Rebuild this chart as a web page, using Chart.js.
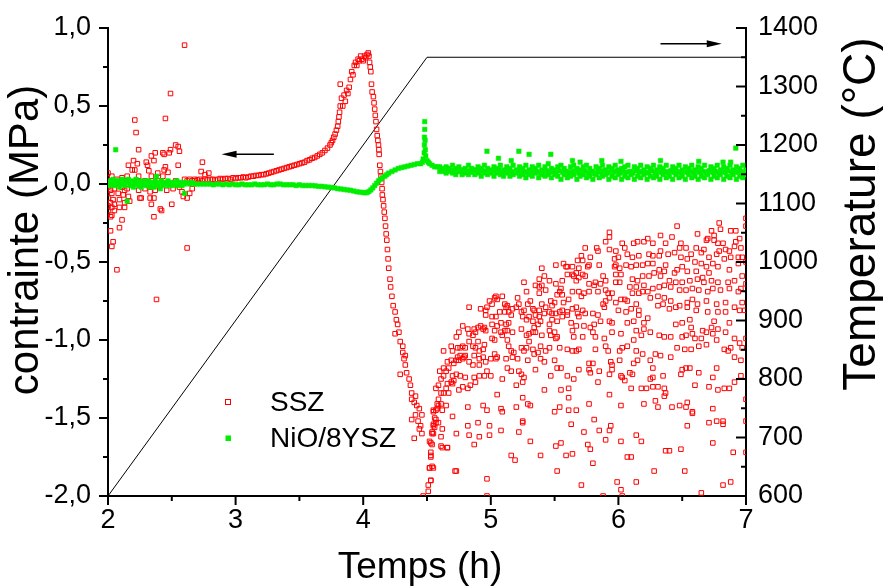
<!DOCTYPE html>
<html>
<head>
<meta charset="utf-8">
<script src="https://cdn.jsdelivr.net/npm/chart.js@4.4.1/dist/chart.umd.min.js"></script>
<style>
  html, body { margin: 0; padding: 0; background: #fff; }
  #wrap { width: 883px; height: 588px; }
</style>
</head>
<body>
<div id="wrap"><canvas id="myChart" width="883" height="588"></canvas></div>
<script>
// ---- data ----
const xTicks = [2, 3, 4, 5, 6, 7];
const stressTicks = [-2, -1.5, -1, -0.5, 0, 0.5, 1];
const tempTicks = [600, 700, 800, 900, 1000, 1100, 1200, 1300, 1400];

// temperature ramp (h, °C)
const tempTime = [2, 4.5, 7];
const tempValue = [600, 1350, 1350];

// SSZ stress (h, MPa)
const sszStart = [
  [2.60,0.89],[2.49,0.58],[2.45,0.42],[2.21,0.41],[2.22,0.33],[2.24,0.22],[2.53,0.25],[2.55,0.24],[2.56,0.21],
  [2.49,0.22],[2.48,0.20],[2.43,0.20],[2.44,0.19],[2.37,0.20],[2.34,0.18],[2.36,0.15],[2.20,0.15],[2.23,0.13],
  [2.30,0.14],[2.31,0.12],[2.45,0.11],[2.55,0.12],[2.74,0.14],[2.16,0.12],[2.19,0.09],[2.21,0.09],[2.32,0.085],
  [2.39,0.07],[2.44,0.09],[2.47,0.075],[2.73,0.08],[2.79,0.07],[2.11,0.04],[2.15,0.05],[2.24,0.05],[2.34,0.05],
  [2.43,0.05],[2.00,0.07],[2.00,-0.02],[2.02,-0.04],[2.05,-0.03],[2.11,-0.02],[2.13,-0.04],[2.15,-0.03],[2.03,-0.06],
  [2.08,-0.06],[2.12,-0.07],[2.16,-0.08],[2.00,-0.09],[2.04,-0.10],[2.09,-0.10],[2.02,-0.12],[2.05,-0.13],[2.13,-0.12],
  [2.17,-0.11],[2.00,-0.14],[2.03,-0.15],[2.09,-0.15],[2.13,-0.15],[2.00,-0.17],[2.05,-0.17],[2.02,-0.21],[2.03,-0.20],
  [2.11,-0.23],[2.02,-0.30],[2.09,-0.28],[2.04,-0.37],[2.03,-0.40],[2.07,-0.55],[2.38,-0.74],[2.62,-0.41],[2.24,-0.04],
  [2.29,-0.03],[2.33,-0.05],[2.37,-0.04],[2.25,-0.09],[2.26,-0.09],[2.33,-0.09],[2.36,-0.09],[2.34,-0.13],[2.41,-0.16],
  [2.42,-0.17],[2.36,-0.21],[2.50,-0.13],[2.58,-0.05],[2.59,-0.08],[2.62,-0.09],[2.64,-0.06],[2.66,-0.03],[2.46,-0.04],
  [2.51,-0.03],[2.56,-0.02],[2.32,-0.01],[2.41,0.00],[2.53,0.02],[2.60,0.03],[2.76,0.06],[2.39,0.02],[2.29,0.02],
  [2.19,0.01],[2.07,0.03],[2.03,0.05],[2.38,0.00],[2.68,0.02],[2.71,0.01]
];
const sszRise = [
  [2.62,0.02],[2.64,0.03],[2.66,0.02],[2.68,0.03],[2.70,0.025],[2.72,0.03],[2.74,0.02],[2.76,0.03],[2.78,0.025],
  [2.80,0.03],[2.82,0.03],[2.84,0.025],[2.86,0.03],[2.88,0.035],[2.90,0.03],[2.92,0.035],[2.94,0.035],[2.96,0.03],
  [2.98,0.04],[3.00,0.035],[3.02,0.04],[3.04,0.04],[3.06,0.045],[3.08,0.04],[3.10,0.045],[3.12,0.05],[3.14,0.05],
  [3.16,0.055],[3.18,0.055],[3.20,0.06],[3.22,0.06],[3.24,0.065],[3.26,0.07],[3.28,0.075],[3.30,0.08],[3.32,0.085],
  [3.34,0.09],[3.36,0.095],[3.38,0.10],[3.40,0.105],[3.42,0.11],[3.44,0.115],[3.46,0.12],[3.48,0.125],[3.50,0.13],
  [3.52,0.135],[3.54,0.14],[3.56,0.15],[3.58,0.155],[3.60,0.165],[3.62,0.17],[3.64,0.18],[3.66,0.19],[3.68,0.20],
  [3.70,0.215],[3.72,0.23],[3.74,0.25],[3.75,0.265],[3.76,0.28],[3.77,0.30],[3.78,0.32],[3.79,0.345],[3.80,0.37],
  [3.805,0.40],[3.81,0.43],[3.815,0.46],[3.82,0.50]
];
const sszPeakDrop = [
  [3.82,0.64],[3.83,0.55],[3.85,0.57],[3.86,0.53],[3.84,0.50],[3.87,0.60],[3.88,0.58],[3.89,0.62],[3.90,0.67],
  [3.91,0.72],[3.92,0.70],[3.93,0.76],[3.94,0.78],[3.95,0.76],[3.96,0.80],[3.97,0.79],[3.98,0.82],[3.99,0.80],
  [4.00,0.79],[4.01,0.82],[4.02,0.81],[4.03,0.83],[4.04,0.84],[4.045,0.82],[4.05,0.78],[4.055,0.75],[4.06,0.72],
  [4.065,0.64],[4.07,0.59],[4.08,0.56],[4.085,0.52],[4.09,0.48],[4.095,0.44],[4.10,0.40],[4.105,0.35],[4.11,0.31],
  [4.115,0.28],[4.12,0.25],[4.123,0.22],[4.125,0.19],[4.13,0.12],[4.135,0.08],[4.14,0.05],[4.145,0.01],[4.148,-0.03],
  [4.15,-0.07],[4.155,-0.10],[4.16,-0.14],[4.165,-0.18],[4.17,-0.22],[4.175,-0.27],[4.18,-0.32],[4.185,-0.36],
  [4.19,-0.42],[4.195,-0.48],[4.20,-0.54],[4.21,-0.61],[4.215,-0.66],[4.225,-0.72],[4.235,-0.78],[4.25,-0.82],
  [4.26,-0.87],[4.27,-0.90],[4.28,-0.95],[4.25,-0.96],[4.29,-1.01],[4.31,-1.04],[4.31,-1.08],[4.32,-1.12],[4.33,-1.10],
  [4.33,-1.16],[4.29,-1.22],[4.34,-1.21],[4.36,-1.25],[4.37,-1.29],[4.38,-1.34],[4.38,-1.38],[4.40,-1.40],[4.41,-1.36],
  [4.42,-1.42],[4.44,-1.44],[4.38,-1.51],[4.41,-1.48],[4.43,-1.52],[4.45,-1.55],[4.44,-1.57],[4.46,-1.60],[4.46,-1.48],
  [4.40,-1.63],[4.47,-2.00],[4.51,-1.93],[4.53,-1.90],[4.52,-1.82],[4.54,-1.81],[4.53,-1.74],[4.53,-1.66],[4.54,-1.60],
  [4.55,-1.55],[4.57,-1.51],[4.55,-1.46],[4.58,-1.44],[4.61,-1.68],[4.66,-1.69],[4.72,-1.84],[4.62,-1.57]
];
const sszCloud = [
  [4.51,-1.97],[4.53,-1.90],[4.52,-1.82],[4.55,-1.82],[4.53,-1.75],[4.53,-1.72],[4.54,-1.67],[4.52,-1.65],[4.55,-1.60],
  [4.54,-1.59],[4.56,-1.56],[4.57,-1.53],[4.55,-1.54],[4.59,-1.53],[4.56,-1.50],[4.57,-1.45],[4.55,-1.45],[4.59,-1.42],
  [4.58,-1.41],[4.62,-1.45],[4.65,-1.42],[4.61,-1.41],[4.59,-1.38],[4.61,-1.34],[4.57,-1.31],[4.59,-1.29],[4.63,-1.34],
  [4.67,-1.34],[4.65,-1.31],[4.66,-1.28],[4.69,-1.27],[4.70,-1.28],[4.71,-1.26],[4.61,-1.25],[4.63,-1.23],[4.60,-1.20],
  [4.65,-1.20],[4.67,-1.18],[4.63,-1.18],[4.66,-1.14],[4.69,-1.13],[4.71,-1.15],[4.73,-1.13],[4.74,-1.11],[4.75,-1.13],
  [4.76,-1.10],[4.78,-1.12],[4.79,-1.11],[4.80,-1.10],[4.63,-1.07],[4.69,-1.04],[4.70,-1.07],[4.74,-1.05],[4.76,-1.05],
  [4.78,-1.04],[4.80,-1.05],[4.73,-0.98],[4.75,-0.95],[4.78,-0.91],[4.82,-0.93],[4.83,-0.96],[4.86,-0.97],[4.88,-0.95],
  [4.87,-0.93],[4.90,-0.92],[4.92,-0.91],[4.94,-0.93],[4.95,-0.92],[4.96,-0.94],[4.83,-1.01],[4.86,-1.04],[4.88,-1.05],
  [4.91,-1.07],[4.94,-1.06],[4.95,-1.03],[4.90,-1.01],[4.87,-1.10],[4.91,-1.12],[4.94,-1.11],[4.96,-1.14],[5.00,-1.12],
  [5.04,-1.12],[5.05,-1.11],[5.03,-1.09],[4.97,-1.20],[5.00,-1.23],[4.95,-1.23],[4.91,-1.23],[4.87,-1.24],[4.88,-1.27],
  [4.84,-1.29],[4.82,-1.31],[4.78,-1.30],[4.75,-1.32],[4.80,-1.24],[4.76,-1.23],[4.73,-1.22],[4.70,-1.23],[4.86,-1.16],
  [4.91,-1.16],[4.83,-1.14],[4.99,-0.75],[4.97,-0.79],[4.96,-0.84],[5.01,-0.77],[5.03,-0.73],[5.04,-0.72],[5.05,-0.74],
  [5.09,-0.72],[5.11,-0.77],[5.13,-0.78],[5.01,-0.85],[5.04,-0.85],[5.07,-0.82],[5.08,-0.89],[5.11,-0.82],[5.12,-0.79],
  [5.14,-0.82],[5.16,-0.84],[5.17,-0.80],[5.20,-0.79],[5.21,-0.73],[5.22,-0.77],[5.26,-0.63],[5.28,-0.69],[5.29,-0.77],
  [5.31,-0.75],[5.33,-0.80],[5.34,-0.81],[5.24,-0.82],[5.26,-0.81],[5.25,-0.85],[5.28,-0.87],[5.30,-0.85],[5.33,-0.88],
  [5.34,-0.92],[5.12,-0.90],[5.14,-0.89],[5.01,-0.90],[5.03,-0.94],[5.05,-0.91],[5.08,-0.95],[5.11,-0.94],[5.13,-0.94],
  [5.17,-0.95],[5.24,-0.93],[5.28,-0.97],[5.30,-0.96],[5.33,-0.95],[5.09,-0.97],[5.13,-1.00],[5.14,-1.04],[5.16,-1.07],
  [5.18,-1.08],[5.17,-1.11],[5.21,-1.12],[5.24,-1.05],[5.26,-1.07],[5.28,-1.05],[5.30,-1.01],[5.33,-1.06],[5.34,-1.09],
  [5.29,-1.13],[5.12,-1.12],[5.13,-1.18],[5.16,-1.20],[5.22,-1.20],[5.24,-1.22],[5.26,-1.24],[5.25,-1.27],[5.20,-1.29],
  [5.09,-1.25],[5.05,-1.35],[4.83,-0.79],[4.92,-0.80],[4.96,-0.81],[5.03,-1.00],[5.01,-0.99],[5.25,-1.37],[5.29,-1.41],
  [5.20,-1.43],[5.09,-1.46],[5.08,-1.44],[4.97,-1.45],[4.94,-1.42],[4.82,-1.43],[4.70,-1.49],[4.61,-1.62],[4.62,-1.69],
  [4.66,-1.69],[4.73,-1.60],[4.83,-1.61],[4.91,-1.62],[4.99,-1.61],[5.08,-1.58],[5.22,-1.59],[5.25,-1.52],[5.25,-1.53],
  [5.31,-1.42],[4.87,-1.67],[4.99,-1.55],[4.90,-1.53],[4.82,-1.55],[5.16,-1.74],[5.19,-1.77],[4.73,-1.84],[4.97,-1.89],
  [4.97,-2.00],[5.31,-1.65],
  [5.93,-0.31],[5.93,-0.34],[5.90,-0.37],[5.93,-0.42],[5.74,-0.41],[5.83,-0.41],[5.84,-0.43],[5.78,-0.47],[5.71,-0.46],
  [5.68,-0.49],[5.72,-0.49],[5.77,-0.52],[5.85,-0.52],[5.76,-0.53],[5.69,-0.54],[5.64,-0.53],[5.60,-0.53],[5.57,-0.51],
  [5.59,-0.53],[5.51,-0.52],[5.40,-0.54],[5.42,-0.59],[5.46,-0.62],[5.38,-0.61],[5.35,-0.65],[5.38,-0.66],[5.40,-0.65],
  [5.43,-0.68],[5.38,-0.70],[5.51,-0.64],[5.56,-0.62],[5.55,-0.67],[5.54,-0.69],[5.60,-0.58],[5.64,-0.58],[5.67,-0.57],
  [5.67,-0.62],[5.65,-0.59],[5.69,-0.60],[5.72,-0.58],[5.74,-0.59],[5.77,-0.64],[5.82,-0.63],[5.81,-0.65],[5.88,-0.59],
  [5.90,-0.62],[5.86,-0.64],[5.98,-0.43],[6.00,-0.47],[5.97,-0.48],[6.03,-0.38],[6.05,-0.41],[6.07,-0.45],[6.11,-0.47],
  [6.12,-0.38],[6.16,-0.46],[6.15,-0.37],[6.20,-0.37],[5.98,-0.52],[5.97,-0.53],[6.01,-0.54],[6.06,-0.52],[6.10,-0.53],
  [6.14,-0.52],[6.19,-0.52],[5.98,-0.58],[6.02,-0.58],[5.98,-0.63],[6.01,-0.63],[6.11,-0.61],[6.15,-0.62],[6.09,-0.66],
  [6.14,-0.66],[6.19,-0.59],[6.20,-0.65],[6.19,-0.69],[6.16,-0.70],[6.11,-0.70],[5.92,-0.70],[5.90,-0.68],[5.84,-0.69],
  [5.77,-0.69],[5.73,-0.70],[5.71,-0.72],[5.69,-0.69],[5.64,-0.69],[5.61,-0.74],[5.57,-0.76],[5.56,-0.71],[5.52,-0.71],
  [5.47,-0.75],[5.50,-0.76],[5.48,-0.78],[5.40,-0.77],[5.43,-0.79],[5.38,-0.81],[5.35,-0.84],[5.38,-0.85],[5.42,-0.83],
  [5.46,-0.82],[5.48,-0.83],[5.51,-0.83],[5.54,-0.82],[5.56,-0.81],[5.60,-0.82],[5.64,-0.80],[5.67,-0.79],[5.68,-0.83],
  [5.72,-0.81],[5.74,-0.83],[5.80,-0.83],[5.84,-0.84],[5.88,-0.77],[5.89,-0.79],[5.90,-0.75],[5.93,-0.73],[5.95,-0.70],
  [5.98,-0.76],[6.02,-0.74],[6.05,-0.74],[6.07,-0.75],[6.14,-0.77],[6.16,-0.81],[6.10,-0.80],[6.06,-0.82],[6.00,-0.81],
  [5.95,-0.89],[5.93,-0.88],[5.86,-0.88],[5.81,-0.90],[5.78,-0.92],[5.73,-0.91],[5.69,-0.85],[5.67,-0.91],[5.63,-0.89],
  [5.60,-0.84],[5.56,-0.85],[5.52,-0.88],[5.48,-0.87],[5.46,-0.90],[5.39,-0.88],[5.37,-0.90],[5.35,-0.95],[5.40,-0.97],
  [5.46,-0.94],[5.50,-0.95],[5.52,-0.98],[5.47,-0.97],[5.51,-0.99],[5.64,-0.94],[5.65,-0.98],[5.72,-0.98],[5.80,-0.95],
  [5.82,-0.98],[5.89,-0.99],[5.95,-0.95],[6.02,-0.96],[6.07,-0.89],[6.12,-0.88],[6.16,-0.84],[6.20,-0.89],[6.14,-0.94],
  [6.20,-0.93],[6.18,-0.97],[6.12,-1.00],[6.07,-1.04],[6.03,-1.05],[6.01,-1.07],[5.92,-1.07],[5.90,-1.04],[5.82,-1.06],
  [5.69,-1.06],[5.67,-1.07],[5.64,-1.07],[5.60,-1.06],[5.54,-1.05],[5.46,-1.05],[5.43,-1.07],[5.39,-1.04],[5.37,-1.08],
  [5.39,-1.12],[5.42,-1.14],[5.50,-1.13],[5.52,-1.18],[5.55,-1.18],[5.35,-1.19],[5.47,-1.23],[5.60,-1.23],[5.65,-1.25],
  [5.69,-1.19],[5.77,-1.15],[5.80,-1.15],[5.77,-1.19],[5.78,-1.21],[5.85,-1.20],[5.94,-1.14],[5.95,-1.16],[5.95,-1.19],
  [5.93,-1.22],[6.01,-1.13],[6.02,-1.23],[6.05,-1.26],[6.09,-1.21],[6.12,-1.15],[6.15,-1.13],[6.19,-1.09],[6.14,-1.07],
  [6.11,-1.22],[6.03,-1.24],[5.84,-1.27],[5.42,-1.32],[5.55,-1.32],[5.61,-1.31],[5.61,-1.37],[5.77,-1.41],[5.93,-1.35],
  [6.10,-1.31],[6.18,-1.31],[6.20,-1.41],[6.02,-1.42],[5.54,-1.43],[5.50,-1.46],[5.61,-1.45],[5.67,-1.45],[5.63,-1.54],
  [5.81,-1.51],[5.73,-1.59],[5.85,-1.58],[5.93,-1.58],[5.94,-1.55],[5.90,-1.64],[6.02,-1.65],[6.14,-1.61],[6.18,-1.65],
  [5.55,-1.66],[5.51,-1.68],[5.76,-1.67],[5.78,-1.70],[5.64,-1.73],[5.59,-1.74],[5.39,-1.74],[5.80,-1.79],[6.07,-1.75],
  [6.10,-1.75],[5.52,-1.84],[5.71,-1.93],[5.99,-1.91],[6.14,-1.91],[6.02,-1.96],[6.03,-2.00],[5.88,-2.00],
  [6.46,-0.27],[6.62,-0.32],[6.79,-0.25],[6.80,-0.29],[6.73,-0.30],[6.75,-0.33],[6.70,-0.35],[6.69,-0.36],[6.75,-0.36],
  [6.78,-0.38],[6.82,-0.38],[6.88,-0.30],[6.92,-0.30],[6.92,-0.37],[6.95,-0.35],[7.00,-0.22],[7.00,-0.27],[6.96,-0.41],
  [6.91,-0.40],[6.87,-0.43],[6.84,-0.42],[6.79,-0.43],[6.77,-0.45],[6.71,-0.47],[6.67,-0.42],[6.65,-0.44],[6.61,-0.41],
  [6.57,-0.45],[6.53,-0.41],[6.49,-0.38],[6.48,-0.41],[6.44,-0.44],[6.39,-0.45],[6.33,-0.43],[6.32,-0.46],[6.27,-0.46],
  [6.24,-0.45],[6.23,-0.35],[6.27,-0.38],[6.33,-0.33],[6.37,-0.38],[6.42,-0.34],[6.49,-0.47],[6.54,-0.48],[6.60,-0.50],
  [6.65,-0.51],[6.69,-0.53],[6.74,-0.51],[6.83,-0.48],[6.88,-0.47],[6.94,-0.47],[6.97,-0.47],[7.00,-0.50],[6.94,-0.51],
  [6.87,-0.55],[6.78,-0.53],[6.71,-0.57],[6.66,-0.60],[6.61,-0.56],[6.54,-0.56],[6.50,-0.53],[6.46,-0.55],[6.44,-0.57],
  [6.37,-0.52],[6.36,-0.56],[6.32,-0.55],[6.27,-0.51],[6.23,-0.51],[6.24,-0.59],[6.28,-0.57],[6.33,-0.59],[6.40,-0.62],
  [6.45,-0.63],[6.50,-0.63],[6.56,-0.62],[6.62,-0.61],[6.67,-0.63],[6.73,-0.62],[6.78,-0.63],[6.86,-0.63],[6.91,-0.62],
  [6.97,-0.59],[7.00,-0.64],[6.96,-0.67],[6.94,-0.69],[6.87,-0.67],[6.80,-0.68],[6.74,-0.67],[6.70,-0.69],[6.63,-0.68],
  [6.58,-0.67],[6.53,-0.68],[6.48,-0.68],[6.41,-0.66],[6.36,-0.65],[6.32,-0.66],[6.27,-0.67],[6.23,-0.69],[6.25,-0.73],
  [6.31,-0.72],[6.36,-0.73],[6.41,-0.75],[6.48,-0.78],[6.54,-0.76],[6.58,-0.74],[6.62,-0.77],[6.69,-0.75],[6.77,-0.77],
  [6.84,-0.76],[6.91,-0.79],[6.97,-0.76],[6.99,-0.81],[6.95,-0.81],[6.84,-0.82],[6.78,-0.82],[6.70,-0.82],[6.61,-0.81],
  [6.54,-0.79],[6.45,-0.79],[6.40,-0.80],[6.35,-0.77],[6.31,-0.78],[6.23,-0.86],[6.25,-0.95],[6.32,-0.97],[6.36,-0.98],
  [6.41,-0.98],[6.45,-0.90],[6.50,-0.89],[6.56,-0.87],[6.57,-0.92],[6.50,-0.98],[6.53,-0.97],[6.60,-0.99],[6.58,-0.96],
  [6.65,-0.99],[6.66,-0.94],[6.69,-0.95],[6.73,-0.92],[6.75,-0.88],[6.78,-0.93],[6.74,-0.96],[6.77,-1.00],[6.69,-1.03],
  [6.63,-1.04],[6.57,-1.06],[6.52,-1.06],[6.46,-1.05],[6.41,-1.11],[6.33,-1.10],[6.29,-1.09],[6.25,-1.13],[6.27,-1.18],
  [6.27,-1.24],[6.35,-1.23],[6.25,-1.25],[6.22,-1.31],[6.27,-1.30],[6.31,-1.30],[6.36,-1.31],[6.37,-1.34],[6.36,-1.36],
  [6.50,-1.19],[6.53,-1.18],[6.56,-1.18],[6.49,-1.22],[6.60,-1.29],[6.63,-1.21],[6.71,-1.30],[6.74,-1.24],[6.77,-1.18],
  [6.83,-1.06],[6.86,-1.07],[6.88,-1.05],[6.91,-1.11],[6.84,-0.95],[6.87,-0.89],[6.91,-0.99],[6.95,-1.02],[6.97,-1.05],
  [7.00,-0.99],[6.96,-1.13],[6.96,-1.23],[6.91,-1.27],[6.83,-1.31],[6.87,-1.31],[6.78,-1.32],[6.29,-1.39],[6.31,-1.43],
  [6.42,-1.43],[6.48,-1.42],[6.53,-1.43],[6.54,-1.40],[6.58,-1.46],[6.58,-1.47],[6.74,-1.44],[6.71,-1.53],[6.77,-1.52],
  [6.82,-1.52],[6.82,-1.54],[7.00,-1.38],[7.00,-1.52],[6.54,-1.55],[6.37,-1.71],[6.40,-1.71],[6.49,-1.70],[6.74,-1.66],
  [6.90,-1.72],[6.28,-1.84],[6.52,-1.84],[6.82,-1.93],[6.88,-1.91],[6.65,-1.98],[7.00,-1.72]
];

// NiO/8YSZ stress (h, MPa)
const nioStart = [
  [2.00,0.01],[2.01,-0.01],[2.02,0.02],[2.03,0.00],[2.04,0.03],[2.05,-0.01],[2.06,0.02],[2.06,0.22],[2.07,0.00],
  [2.08,0.02],[2.09,-0.02],[2.10,0.01],[2.11,0.03],[2.12,0.00],[2.13,-0.01],[2.14,0.02],[2.15,-0.11],[2.15,0.01],
  [2.16,0.03],[2.17,-0.01],[2.18,0.01],[2.19,0.02],[2.20,-0.02],[2.21,0.01],[2.22,0.03],[2.23,0.00],[2.24,-0.01],
  [2.25,0.02],[2.26,-0.02],[2.27,0.01],[2.28,0.00],[2.29,0.02],[2.30,-0.01],[2.31,0.01],[2.32,0.02],[2.33,-0.02],
  [2.34,0.00],[2.35,0.01],[2.36,-0.02],[2.37,0.02],[2.38,0.05],[2.38,0.00],[2.39,-0.01],[2.40,0.01],[2.41,-0.03],
  [2.42,0.02],[2.43,0.00],[2.44,-0.01],[2.45,0.01],[2.46,0.00],[2.47,0.02],[2.48,-0.01],[2.49,0.01],[2.50,0.00],
  [2.51,-0.01],[2.52,0.01],[2.53,0.00],[2.54,0.02],[2.55,-0.01],[2.56,0.01],[2.57,0.00],[2.58,-0.01],[2.59,0.01],
  [2.60,-0.06],[2.60,0.00],[2.62,0.01],[2.64,0.00],[2.66,0.01],[2.68,0.00],[2.70,0.00]
];
const nioRamp = [
  [2.725,0.00],[2.75,0.00],[2.775,0.00],[2.80,0.00],[2.825,-0.005],[2.85,0.00],[2.875,0.00],[2.90,-0.005],[2.925,0.00],
  [2.95,-0.005],[2.975,0.00],[3.00,-0.005],[3.025,-0.005],[3.05,0.00],[3.075,-0.005],[3.10,-0.005],[3.125,-0.005],
  [3.15,0.00],[3.175,-0.005],[3.20,-0.005],[3.225,-0.005],[3.25,0.00],[3.275,-0.005],[3.30,-0.005],[3.325,0.00],
  [3.35,0.00],[3.375,-0.005],[3.40,-0.005],[3.425,-0.005],[3.45,-0.005],[3.475,-0.01],[3.50,-0.005],[3.525,-0.01],
  [3.55,-0.01],[3.575,-0.01],[3.60,-0.01],[3.625,-0.012],[3.65,-0.015],[3.675,-0.015],[3.70,-0.018],[3.725,-0.02],
  [3.75,-0.022],[3.775,-0.025],[3.80,-0.03],[3.825,-0.032],[3.85,-0.035],[3.875,-0.038],[3.90,-0.04],[3.925,-0.045],
  [3.95,-0.05],[3.975,-0.052],[4.00,-0.055],[4.015,-0.056],[4.03,-0.055],[4.045,-0.048],[4.06,-0.038],[4.075,-0.025],
  [4.09,-0.01],[4.105,0.005],[4.12,0.02],[4.135,0.03],[4.15,0.04],[4.17,0.05],[4.185,0.06],[4.20,0.07],[4.225,0.08],
  [4.25,0.09],[4.275,0.10],[4.30,0.105],[4.325,0.11],[4.35,0.115],[4.375,0.12],[4.40,0.125],[4.425,0.13],[4.45,0.13],
  [4.465,0.14],[4.47,0.16],[4.478,0.20],[4.48,0.25],[4.48,0.30],[4.482,0.35],[4.482,0.40],[4.485,0.28],[4.487,0.22],
  [4.49,0.18],[4.50,0.15],[4.51,0.14],[4.52,0.13],[4.54,0.12],[4.56,0.11],[4.58,0.11]
];
const nioBand = [
  [4.600,0.11],[4.600,0.08],[4.625,0.10],[4.625,0.09],[4.650,0.11],[4.650,0.07],[4.675,0.10],[4.675,0.08],
  [4.700,0.12],[4.700,0.07],[4.725,0.10],[4.725,0.06],[4.750,0.11],[4.750,0.08],[4.775,0.09],[4.775,0.06],
  [4.800,0.10],[4.800,0.07],[4.825,0.12],[4.825,0.06],[4.850,0.10],[4.850,0.08],[4.875,0.09],[4.875,0.06],
  [4.900,0.11],[4.900,0.07],[4.925,0.10],[4.925,0.05],[4.950,0.12],[4.950,0.07],[4.975,0.10],[4.975,0.06],
  [5.000,0.09],[5.000,0.07],[5.025,0.11],[5.025,0.05],[5.050,0.10],[5.050,0.07],[5.075,0.12],[5.075,0.06],
  [5.100,0.09],[5.100,0.05],[5.125,0.11],[5.125,0.07],[5.150,0.10],[5.150,0.05],[5.175,0.12],[5.175,0.06],
  [5.200,0.09],[5.200,0.07],[5.225,0.11],[5.225,0.05],[5.250,0.10],[5.250,0.06],[5.275,0.12],[5.275,0.04],
  [5.300,0.09],[5.300,0.06],[5.325,0.11],[5.325,0.05],[5.350,0.10],[5.350,0.07],[5.375,0.12],[5.375,0.04],
  [5.400,0.09],[5.400,0.06],[5.425,0.11],[5.425,0.05],[5.450,0.13],[5.450,0.06],[5.475,0.10],[5.475,0.04],
  [5.500,0.09],[5.500,0.06],[5.525,0.11],[5.525,0.05],[5.550,0.12],[5.550,0.03],[5.575,0.10],[5.575,0.06],
  [5.600,0.08],[5.600,0.04],[5.625,0.11],[5.625,0.05],[5.650,0.12],[5.650,0.06],[5.675,0.10],[5.675,0.03],
  [5.700,0.09],[5.700,0.05],[5.725,0.11],[5.725,0.06],[5.750,0.12],[5.750,0.04],[5.775,0.10],[5.775,0.05],
  [5.800,0.08],[5.800,0.03],[5.825,0.11],[5.825,0.06],[5.850,0.10],[5.850,0.04],[5.875,0.12],[5.875,0.05],
  [5.900,0.09],[5.900,0.06],[5.925,0.11],[5.925,0.03],[5.950,0.10],[5.950,0.05],[5.975,0.12],[5.975,0.04],
  [6.000,0.09],[6.000,0.06],[6.025,0.10],[6.025,0.03],[6.050,0.11],[6.050,0.05],[6.075,0.12],[6.075,0.04],
  [6.100,0.08],[6.100,0.06],[6.125,0.11],[6.125,0.03],[6.150,0.10],[6.150,0.05],[6.175,0.12],[6.175,0.04],
  [6.200,0.09],[6.200,0.06],[6.225,0.11],[6.225,0.03],[6.250,0.10],[6.250,0.05],[6.275,0.12],[6.275,0.04],
  [6.300,0.09],[6.300,0.05],[6.325,0.11],[6.325,0.03],[6.350,0.10],[6.350,0.06],[6.375,0.12],[6.375,0.04],
  [6.400,0.08],[6.400,0.05],[6.425,0.11],[6.425,0.03],[6.450,0.10],[6.450,0.06],[6.475,0.12],[6.475,0.04],
  [6.500,0.09],[6.500,0.05],[6.525,0.11],[6.525,0.03],[6.550,0.10],[6.550,0.06],[6.575,0.12],[6.575,0.04],
  [6.600,0.09],[6.600,0.05],[6.625,0.11],[6.625,0.03],[6.650,0.10],[6.650,0.05],[6.675,0.12],[6.675,0.04],
  [6.700,0.08],[6.700,0.06],[6.725,0.11],[6.725,0.03],[6.750,0.10],[6.750,0.05],[6.775,0.12],[6.775,0.04],
  [6.800,0.09],[6.800,0.06],[6.825,0.11],[6.825,0.03],[6.850,0.10],[6.850,0.05],[6.875,0.12],[6.875,0.04],
  [6.900,0.09],[6.900,0.06],[6.925,0.11],[6.925,0.03],[6.950,0.10],[6.950,0.05],[6.975,0.12],[6.975,0.04],
  [7.000,0.09],[7.000,0.06]
];
const nioBandMid = [
  [4.6125,0.09],[4.6375,0.08],[4.6625,0.095],[4.6875,0.085],[4.7125,0.09],[4.7375,0.08],[4.7625,0.085],[4.7875,0.09],
  [4.8125,0.08],[4.8375,0.085],[4.8625,0.075],[4.8875,0.09],[4.9125,0.08],[4.9375,0.085],[4.9625,0.08],[4.9875,0.075],
  [5.0125,0.085],[5.0375,0.08],[5.0625,0.09],[5.0875,0.075],[5.1125,0.08],[5.1375,0.085],[5.1625,0.075],[5.1875,0.08],
  [5.2125,0.085],[5.2375,0.075],[5.2625,0.08],[5.2875,0.07],[5.3125,0.085],[5.3375,0.075],[5.3625,0.08],[5.3875,0.07],
  [5.4125,0.08],[5.4375,0.085],[5.4625,0.075],[5.4875,0.08],[5.5125,0.07],[5.5375,0.085],[5.5625,0.075],[5.5875,0.08],
  [5.6125,0.065],[5.6375,0.08],[5.6625,0.085],[5.6875,0.07],[5.7125,0.075],[5.7375,0.085],[5.7625,0.07],[5.7875,0.08],
  [5.8125,0.065],[5.8375,0.08],[5.8625,0.075],[5.8875,0.085],[5.9125,0.07],[5.9375,0.08],[5.9625,0.075],[5.9875,0.085],
  [6.0125,0.07],[6.0375,0.08],[6.0625,0.075],[6.0875,0.08],[6.1125,0.07],[6.1375,0.085],[6.1625,0.075],[6.1875,0.08],
  [6.2125,0.07],[6.2375,0.075],[6.2625,0.085],[6.2875,0.07],[6.3125,0.08],[6.3375,0.075],[6.3625,0.08],[6.3875,0.07],
  [6.4125,0.085],[6.4375,0.075],[6.4625,0.08],[6.4875,0.07],[6.5125,0.08],[6.5375,0.075],[6.5625,0.085],[6.5875,0.07],
  [6.6125,0.08],[6.6375,0.075],[6.6625,0.08],[6.6875,0.07],[6.7125,0.085],[6.7375,0.075],[6.7625,0.08],[6.7875,0.07],
  [6.8125,0.08],[6.8375,0.075],[6.8625,0.085],[6.8875,0.07],[6.9125,0.08],[6.9375,0.075],[6.9625,0.08],[6.9875,0.07]
];
const nioOutliers = [
  [4.97,0.21],[5.22,0.21],[5.06,0.165],[5.30,0.19],[5.47,0.19],[5.16,0.15],[5.64,0.15],[5.70,0.14],[5.87,0.15],
  [6.02,0.145],[6.33,0.15],[6.63,0.145],[6.82,0.14],[6.88,0.14],[6.92,0.23]
];

// ---- styling ----
const RED = '#ff0000';
const GREEN = '#00ee00';
Chart.defaults.font.family = "'Liberation Sans', Arial, sans-serif";
Chart.defaults.color = '#000';

const toPoints = (rows) => rows.map(([x, y]) => ({ x, y }));
const sszPoints = toPoints([...sszStart, ...sszRise, ...sszPeakDrop, ...sszCloud]);
const nioPoints = toPoints([...nioStart, ...nioRamp, ...nioBand, ...nioBandMid, ...nioOutliers]);
const tempPoints = tempTime.map((t, i) => ({ x: t, y: tempValue[i] }));

// minor + major tick marks, titles, legend and arrows
const decorations = {
  id: 'decorations',
  afterDraw(chart) {
    const ctx = chart.ctx;
    const { x, y, y2 } = chart.scales;
    const area = chart.chartArea;
    ctx.save();
    ctx.strokeStyle = '#000';
    ctx.lineWidth = 2;
    const mark = (x1, y1, x2, y2_) => { ctx.beginPath(); ctx.moveTo(x1, y1); ctx.lineTo(x2, y2_); ctx.stroke(); };

    // bottom axis: ticks point down
    xTicks.forEach((v, i) => {
      const p = x.getPixelForValue(v);
      mark(p, area.bottom, p, area.bottom + 9);
      if (i < xTicks.length - 1) {
        const m = x.getPixelForValue((v + xTicks[i + 1]) / 2);
        mark(m, area.bottom, m, area.bottom + 5);
      }
    });
    // left axis: ticks point left
    stressTicks.forEach((v, i) => {
      const p = y.getPixelForValue(v);
      mark(area.left, p, area.left - 9, p);
      if (i < stressTicks.length - 1) {
        const m = y.getPixelForValue((v + stressTicks[i + 1]) / 2);
        mark(area.left, m, area.left - 5, m);
      }
    });
    // right axis: ticks point inward
    tempTicks.forEach((v, i) => {
      const p = y2.getPixelForValue(v);
      mark(area.right, p, area.right - 10, p);
      if (i < tempTicks.length - 1) {
        const m = y2.getPixelForValue(v + 50);
        mark(area.right, m, area.right - 5, m);
      }
    });

    // axis titles
    ctx.fillStyle = '#000';
    ctx.textAlign = 'center';
    ctx.textBaseline = 'middle';
    ctx.font = "42px 'Liberation Sans', Arial, sans-serif";
    ctx.save();
    ctx.translate(26, 240);
    ctx.rotate(-Math.PI / 2);
    ctx.fillText('contrainte (MPa)', 0, 0);
    ctx.restore();
    ctx.font = "46px 'Liberation Sans', Arial, sans-serif";
    ctx.save();
    ctx.translate(862, 214);
    ctx.rotate(-Math.PI / 2);
    ctx.fillText('Temperature (°C)', 0, 0);
    ctx.restore();
    ctx.font = "37px 'Liberation Sans', Arial, sans-serif";
    ctx.fillText('Temps (h)', 420, 568);

    // legend inside the plot
    ctx.textAlign = 'left';
    ctx.font = "28px 'Liberation Sans', Arial, sans-serif";
    ctx.lineWidth = 1;
    ctx.strokeStyle = RED;
    ctx.strokeRect(225.5, 399.5, 5, 5);
    ctx.fillStyle = GREEN;
    ctx.fillRect(225.5, 435.5, 5.5, 5.5);
    ctx.fillStyle = '#000';
    ctx.fillText('SSZ', 270, 403);
    ctx.fillText('NiO/8YSZ', 270, 439);

    // direction arrows
    const arrow = (x0, x1, py) => {
      ctx.strokeStyle = '#000';
      ctx.fillStyle = '#000';
      ctx.lineWidth = 1.5;
      const dir = Math.sign(x1 - x0);
      mark(x0, py, x1 - dir * 10, py);
      ctx.beginPath();
      ctx.moveTo(x1, py);
      ctx.lineTo(x1 - dir * 15, py - 3.5);
      ctx.lineTo(x1 - dir * 15, py + 3.5);
      ctx.closePath();
      ctx.fill();
    };
    arrow(x.getPixelForValue(3.30), x.getPixelForValue(2.89), y.getPixelForValue(0.19));
    arrow(x.getPixelForValue(6.33), x.getPixelForValue(6.81), y2.getPixelForValue(1373));
    ctx.restore();
  }
};

// vertical axes: fixed width, and keep the tick padding out of the top/bottom reserve
const fixVertical = (width) => (s) => {
  s.width = width;
  s.paddingTop = 10;
  s.paddingBottom = 10;
};

const ctx = document.getElementById('myChart').getContext('2d');
new Chart(ctx, {
  type: 'scatter',
  data: {
    datasets: [
      {
        label: 'NiO/8YSZ', data: nioPoints, yAxisID: 'y', order: 1,
        pointStyle: 'rect', pointRadius: 3.2, pointBackgroundColor: GREEN,
        pointBorderColor: GREEN, pointBorderWidth: 0.5
      },
      {
        label: 'SSZ', data: sszPoints, yAxisID: 'y', order: 2,
        pointStyle: 'rect', pointRadius: 3.2, pointBackgroundColor: 'rgba(255,255,255,0)',
        pointBorderColor: RED, pointBorderWidth: 1
      },
      {
        label: 'Temperature', data: tempPoints, yAxisID: 'y2', order: 3,
        showLine: true, borderColor: '#000', borderWidth: 1, pointRadius: 0
      }
    ]
  },
  options: {
    responsive: false,
    animation: false,
    devicePixelRatio: 1,
    events: [],
    layout: { padding: { top: 28, left: 0, right: 0, bottom: 0 } },
    plugins: { legend: { display: false }, tooltip: { enabled: false } },
    scales: {
      x: {
        type: 'linear', position: 'bottom', min: 2, max: 7,
        afterBuildTicks: (s) => { s.ticks = xTicks.map(v => ({ value: v })); },
        ticks: { font: { size: 27 }, padding: 8, maxRotation: 0, color: '#000' },
        grid: { display: false, drawTicks: false },
        border: { display: true, color: '#000', width: 2 },
        afterFit: (s) => { s.height = 92; }
      },
      y: {
        type: 'linear', position: 'left', min: -2, max: 1,
        afterBuildTicks: (s) => { s.ticks = stressTicks.map(v => ({ value: v })); },
        ticks: { font: { size: 27 }, padding: 17, color: '#000',
                 callback: (v) => Number(v).toFixed(1).replace('.', ',') },
        grid: { display: false, drawTicks: false },
        border: { display: true, color: '#000', width: 2 },
        afterFit: fixVertical(108)
      },
      y2: {
        type: 'linear', position: 'right', min: 600, max: 1400,
        afterBuildTicks: (s) => { s.ticks = tempTicks.map(v => ({ value: v })); },
        ticks: { font: { size: 27 }, padding: 12, color: '#000', callback: (v) => String(v) },
        grid: { display: false, drawTicks: false },
        border: { display: true, color: '#000', width: 2 },
        afterFit: fixVertical(137)
      }
    }
  },
  plugins: [decorations]
});
</script>
</body>
</html>
